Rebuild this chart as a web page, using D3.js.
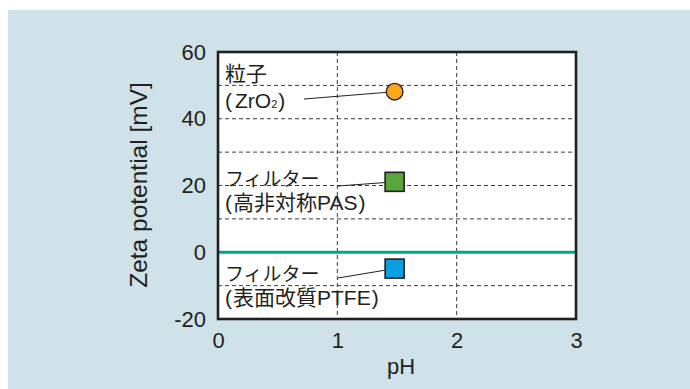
<!DOCTYPE html>
<html><head><meta charset="utf-8">
<script src="https://cdn.jsdelivr.net/npm/d3@7"></script>
<style>
html,body{margin:0;padding:0;background:#fff;}
svg{display:block;}
</style></head>
<body>
<svg id="c" width="690" height="389"></svg>
<script>
// data
const xTicks = [0, 1, 2, 3];
const yTicks = [-20, 0, 20, 40, 60];
const yGrid = [-10, 10, 20, 30, 40, 50];
const xGrid = [1, 2];
const names = ["粒子", "フィルター", "フィルター"];
const subNames = ["ZrO", "高非対称PAS", "表面改質PTFE"];
const phValues = [1.48, 1.48, 1.48];
const zetaValues = [48.1, 21.1, -4.9];
const shapes = ["circle", "square", "square"];
const colors = ["#f9a61d", "#5aa43e", "#0b9ee0"];
const xLabel = "pH";
const yLabel = "Zeta potential [mV]";

const svg = d3.select("#c");
const L = 218, R = 576, T = 52, B = 319;
const x = d3.scaleLinear().domain([0, 3]).range([L, R]);
const y = d3.scaleLinear().domain([-20, 60]).range([B, T]);
const ink = "#231f20";
const latin = "'Liberation Sans', Arial, sans-serif";
const cjk = "'Liberation Sans', 'Noto Sans CJK JP', sans-serif";

svg.append("rect").attr("x", 8).attr("y", 10).attr("width", 682).attr("height", 379).attr("fill", "#cfe2ea");
svg.append("rect").attr("x", L).attr("y", T).attr("width", R - L).attr("height", B - T).attr("fill", "#fff");

// grid
svg.append("g").selectAll("line").data(yGrid).join("line")
  .attr("x1", L).attr("x2", R).attr("y1", d => y(d)).attr("y2", d => y(d))
  .attr("stroke", "#3a3a3a").attr("stroke-width", 1).attr("stroke-dasharray", "4,3");
svg.append("g").selectAll("line").data(xGrid).join("line")
  .attr("y1", T).attr("y2", B).attr("x1", d => x(d)).attr("x2", d => x(d))
  .attr("stroke", "#3a3a3a").attr("stroke-width", 1).attr("stroke-dasharray", "4,3");

// zero line
svg.append("line").attr("x1", L).attr("x2", R).attr("y1", y(0)).attr("y2", y(0))
  .attr("stroke", "#00a596").attr("stroke-width", 3.2);

// frame
svg.append("rect").attr("x", L).attr("y", T).attr("width", R - L).attr("height", B - T)
  .attr("fill", "none").attr("stroke", ink).attr("stroke-width", 2.6);

// axes
const yAxis = d3.axisLeft(y).tickValues(yTicks).tickSize(0).tickPadding(12).tickFormat(d => String(d));
const gy = svg.append("g").attr("transform", `translate(${L},0)`).call(yAxis);
gy.select(".domain").remove();
gy.selectAll("text").attr("font-family", latin).attr("font-size", 22).attr("fill", ink);

const xAxis = d3.axisBottom(x).tickValues(xTicks).tickSize(0).tickPadding(13).tickFormat(d => String(d));
const gx = svg.append("g").attr("transform", `translate(0,${B})`).call(xAxis);
gx.select(".domain").remove();
gx.selectAll("text").attr("font-family", latin).attr("font-size", 22).attr("fill", ink);

svg.append("text").attr("x", 401).attr("y", 374).attr("text-anchor", "middle")
  .attr("font-family", latin).attr("font-size", 22).attr("fill", ink).text(xLabel);
svg.append("text").attr("transform", `translate(147,185) rotate(-90)`).attr("text-anchor", "middle")
  .attr("font-family", latin).attr("font-size", 24.5).attr("fill", ink).text(yLabel);

// labels & leader lines
const labelBase = [[81, 108], [186, 210], [281, 305]];
const leaderStart = [[304, 99], [338, 186], [338, 278]];
names.forEach((n, i) => {
  const px = x(phValues[i]), py = y(zetaValues[i]);
  svg.append("line").attr("x1", leaderStart[i][0]).attr("y1", leaderStart[i][1])
    .attr("x2", px).attr("y2", py).attr("stroke", ink).attr("stroke-width", 1);
  svg.append("text").attr("x", 225).attr("y", labelBase[i][0])
    .attr("font-family", cjk).attr("font-size", i === 0 ? 21 : 19).attr("fill", ink).text(n);
  const t = svg.append("text").attr("x", 225).attr("y", labelBase[i][1])
    .attr("font-family", cjk).attr("font-size", 21).attr("fill", ink);
  if (i === 0) {
    t.append("tspan").text("(");
    t.append("tspan").attr("dx", 3).text(subNames[i]);
    t.append("tspan").attr("font-size", 11).text("2");
    t.append("tspan").attr("dx", 1).text(")");
  } else {
    t.append("tspan").text("(");
    t.append("tspan").attr("dx", 1).text(subNames[i]);
    t.append("tspan").attr("dx", 1).text(")");
  }
});

// markers
names.forEach((n, i) => {
  const px = x(phValues[i]), py = y(zetaValues[i]);
  if (shapes[i] === "circle") {
    svg.append("circle").attr("cx", px).attr("cy", py).attr("r", 8.3)
      .attr("fill", colors[i]).attr("stroke", ink).attr("stroke-width", 1.4);
  } else {
    svg.append("rect").attr("x", px - 9.5).attr("y", py - 9.5).attr("width", 19).attr("height", 19)
      .attr("fill", colors[i]).attr("stroke", ink).attr("stroke-width", 1.6);
  }
});
</script>
</body></html>
